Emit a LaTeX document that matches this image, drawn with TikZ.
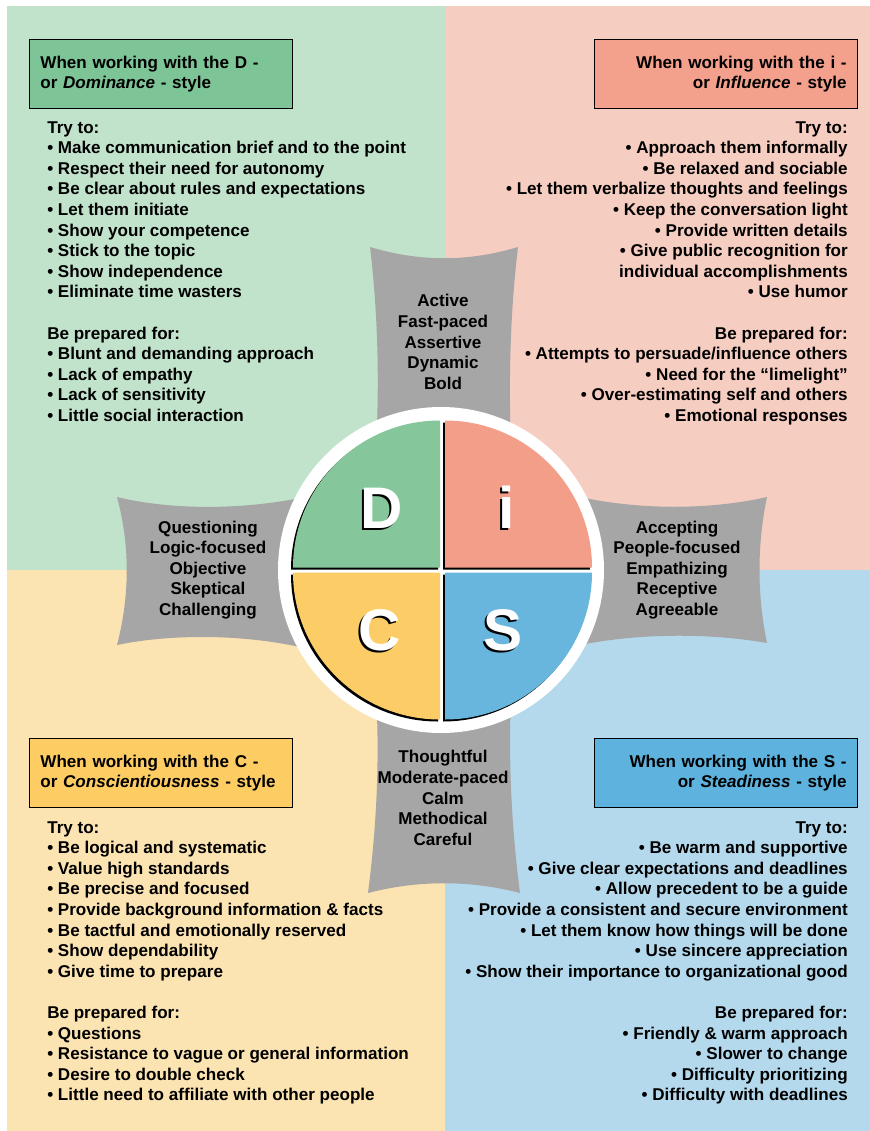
\documentclass[tikz,border=0pt]{standalone}
\usepackage{fontspec}
\setmainfont{Liberation Sans}

\definecolor{dback}{RGB}{193,226,203}
\definecolor{iback}{RGB}{246,205,193}
\definecolor{cback}{RGB}{251,227,178}
\definecolor{sback}{RGB}{180,217,236}
\definecolor{dhead}{RGB}{125,196,151}
\definecolor{ihead}{RGB}{243,160,140}
\definecolor{chead}{RGB}{253,204,98}
\definecolor{shead}{RGB}{94,178,222}
\definecolor{dpie}{RGB}{133,199,155}
\definecolor{ipie}{RGB}{243,158,137}
\definecolor{cpie}{RGB}{252,205,102}
\definecolor{spie}{RGB}{104,182,222}
\definecolor{armgray}{RGB}{166,166,166}

\newcommand{\txt}{\fontsize{12.8}{15.45}\selectfont\bfseries}
\newcommand{\bigtxt}{\fontsize{44}{44}\selectfont\bfseries}

\tikzset{
  head/.style={draw=black, line width=1.1pt, minimum width=197pt, minimum height=51.75pt,
    inner xsep=8pt, text width=181pt, font=\txt},
  block/.style={inner sep=0pt, font=\txt},
  armtext/.style={align=center, inner sep=0pt, font=\txt},
  letter/.style={anchor=base, inner sep=0pt, font=\bigtxt}
}

\begin{document}
\begin{tikzpicture}[x=0.75pt, y=-0.75pt]
\useasboundingbox (0,0) rectangle (870,1131);

\fill [dback] (7,6) rectangle (445,570);
\fill [iback] (445,6) rectangle (870,570);
\fill [cback] (7,570) rectangle (445,1131);
\fill [sback] (445,570) rectangle (870,1131);

\fill [armgray] (370,247) .. controls (420,262) and (468,262) .. (518,247)
  .. controls (508,330) and (508,420) .. (514,500)
  -- (580,497) .. controls (640,510) and (710,510) .. (767,497)
  .. controls (757,545) and (757,595) .. (767,643)
  .. controls (710,633) and (640,633) .. (580,645)
  -- (514,642) .. controls (508,720) and (508,800) .. (520,893)
  .. controls (470,880) and (418,880) .. (368,893)
  .. controls (380,800) and (380,720) .. (372,642)
  -- (300,647) .. controls (240,634) and (170,634) .. (117,645)
  .. controls (130,595) and (130,545) .. (117,497)
  .. controls (170,510) and (240,510) .. (300,498)
  -- (372,500) .. controls (380,420) and (380,330) .. (370,247) -- cycle;

\fill [white] (441,570) circle [radius=122.25pt];

\fill [black] (438,569.5) -- ++(-147,0) arc [start angle=180, end angle=90, radius=110.25pt] -- cycle;
\fill [black] (443,569.5) -- ++(0,-147) arc [start angle=90, end angle=0, radius=110.25pt] -- cycle;
\fill [black] (438,574.5) -- ++(-147,0) arc [start angle=180, end angle=270, radius=110.25pt] -- cycle;
\fill [black] (443,574.5) -- ++(147,0) arc [start angle=0, end angle=-90, radius=110.25pt] -- cycle;

\fill [dpie] (440,567.5) -- ++(-147,0) arc [start angle=180, end angle=90, radius=110.25pt] -- cycle;
\fill [ipie] (445,567.5) -- ++(0,-147) arc [start angle=90, end angle=0, radius=110.25pt] -- cycle;
\fill [cpie] (440,572.5) -- ++(-147,0) arc [start angle=180, end angle=270, radius=110.25pt] -- cycle;
\fill [spie] (445,572.5) -- ++(147,0) arc [start angle=0, end angle=-90, radius=110.25pt] -- cycle;

\foreach \l/\x/\y [count=\i] in {D/382/528, i/507/528, C/380/650, S/503/650} {
  \node [letter, black] (shadow\i) at (\x-2,\y+2) {\l};
  \node [letter, white] (letter\i) at (\x,\y) {\l};
}

\node [armtext] (atop) at (443,342) {Active\\Fast-paced\\Assertive\\Dynamic\\Bold};
\node [armtext] (aleft) at (208,570) {Questioning\\Logic-focused\\Objective\\Skeptical\\Challenging};
\node [armtext] (aright) at (677,570) {Accepting\\People-focused\\Empathizing\\Receptive\\Agreeable};
\node [armtext] (abot) at (443,798) {Thoughtful\\Moderate-paced\\Calm\\Methodical\\Careful};

\node [head, fill=dhead, anchor=north west, align=left] (dhd) at (29,39)
  {When working with the D -\\or \textit{Dominance} - style};
\node [head, fill=ihead, anchor=north east, align=right] (ihd) at (858,39)
  {When working with the i -\\or \textit{Influence} - style};
\node [head, fill=chead, anchor=north west, align=left] (chd) at (29,738)
  {When working with the C -\\or \textit{Conscientiousness} - style};
\node [head, fill=shead, anchor=north east, align=right] (shd) at (858,738)
  {When working with the S -\\or \textit{Steadiness} - style};

\node [block, anchor=north west, align=left] (dtxt) at (47,121)
  {Try to:\\
   • Make communication brief and to the point\\
   • Respect their need for autonomy\\
   • Be clear about rules and expectations\\
   • Let them initiate\\
   • Show your competence\\
   • Stick to the topic\\
   • Show independence\\
   • Eliminate time wasters\\[15.45pt]
   Be prepared for:\\
   • Blunt and demanding approach\\
   • Lack of empathy\\
   • Lack of sensitivity\\
   • Little social interaction};

\node [block, anchor=north east, align=right] (itxt) at (848,121)
  {Try to:\\
   • Approach them informally\\
   • Be relaxed and sociable\\
   • Let them verbalize thoughts and feelings\\
   • Keep the conversation light\\
   • Provide written details\\
   • Give public recognition for\hspace{4.5pt}\\
   individual accomplishments\\
   • Use humor\\[15.45pt]
   Be prepared for:\\
   • Attempts to persuade/influence others\\
   • Need for the “limelight”\\
   • Over-estimating self and others\\
   • Emotional responses};

\node [block, anchor=north west, align=left] (ctxt) at (47,821)
  {Try to:\\
   • Be logical and systematic\\
   • Value high standards\\
   • Be precise and focused\\
   • Provide background information \& facts\\
   • Be tactful and emotionally reserved\\
   • Show dependability\\
   • Give time to prepare\\[15.45pt]
   Be prepared for:\\
   • Questions\\
   • Resistance to vague or general information\\
   • Desire to double check\\
   • Little need to affiliate with other people};

\node [block, anchor=north east, align=right] (stxt) at (848,821)
  {Try to:\\
   • Be warm and supportive\\
   • Give clear expectations and deadlines\\
   • Allow precedent to be a guide\\
   • Provide a consistent and secure environment\\
   • Let them know how things will be done\\
   • Use sincere appreciation\\
   • Show their importance to organizational good\\[15.45pt]
   Be prepared for:\\
   • Friendly \& warm approach\hspace{4.5pt}\\
   • Slower to change\\
   • Difficulty prioritizing\\
   • Difficulty with deadlines};

\end{tikzpicture}
\end{document}
